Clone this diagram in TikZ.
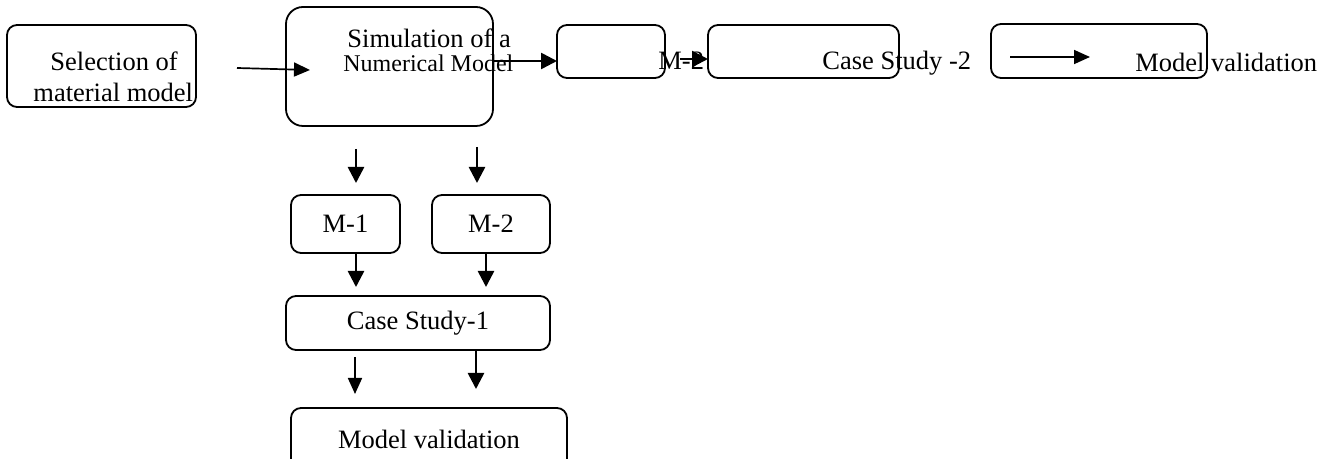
\documentclass[tikz,border=0pt]{standalone}
\usepackage{fontspec}
\setmainfont{Liberation Serif}
\usetikzlibrary{arrows.meta}

\tikzset{
    box/.style={rectangle, rounded corners=5pt, draw, line width=0.9pt,
        inner sep=0pt, outer sep=0pt, font=\fontsize{13.25}{15.5}\selectfont},
    txt/.style={inner sep=0pt, anchor=base west, font=\fontsize{13.25}{15.5}\selectfont},
    arr/.style={-{Triangle[length=8pt,width=8pt]}, line width=1.3pt},
    thinarr/.style={-{Triangle[length=8pt,width=7pt]}, line width=0.85pt}
}

\begin{document}
\begin{tikzpicture}[x=0.5pt, y=-0.5pt]
    \useasboundingbox (0,0) rectangle (1330,459);
    \clip (0,0) rectangle (1330,459);

    % boxes
    \node[box, minimum width=94.5pt, minimum height=41pt] (sel) at (101.5,66) {};
    \node[box, rounded corners=8.5pt, minimum width=103.5pt, minimum height=59.5pt] (sim) at (389.5,66.5) {};
    \node[box, minimum width=54pt, minimum height=26.5pt] (blank) at (611,51.5) {};
    \node[box, minimum width=95.5pt, minimum height=26.5pt] (cstwo) at (803.5,51.5) {};
    \node[box, minimum width=108pt, minimum height=27pt] (valtop) at (1099,51) {};
    \node[box, minimum width=54.5pt, minimum height=29pt] (mone) at (345.5,224) {M-1};
    \node[box, minimum width=59pt, minimum height=29pt] (mtwo) at (491,224) {M-2};
    \node[box, minimum width=132pt, minimum height=27pt] (csone) at (418,323) {Case Study-1};
    \node[box, minimum width=138pt, minimum height=31pt] (valbot) at (429,439) {Model validation};

    % texts that sit loose
    \node[txt] (selA) at (50,71) {Selection of};
    \node[txt] (selB) at (33,102) {material model};
    \node[txt] (simA) at (347,48) {Simulation of a};
    \node[txt, font=\fontsize{12}{14}\selectfont] (simB) at (343,72) {Numerical Model};
    \node[txt] (mtwoText) at (658,70) {M-2};
    \node[txt] (cstwoText) at (822,70) {Case Study -2};
    \node[txt] (valText) at (1135,72) {Model validation};

    % arrow ends
    \coordinate (selOut) at (237,68);
    \coordinate (simIn) at (310,70);
    \coordinate (simOut) at (492,61);
    \coordinate (blankIn) at (557,61);
    \coordinate (mtwoOut) at (680,59);
    \coordinate (cstwoIn) at (708,59);
    \coordinate (valA) at (1010,57);
    \coordinate (valB) at (1090,57);
    \coordinate (downA) at (356,149);
    \coordinate (downAend) at (356,183);
    \coordinate (downB) at (477,147);
    \coordinate (downBend) at (477,183);
    \coordinate (monein) at (356,287);
    \coordinate (mtwoin) at (486,287);
    \coordinate (csA) at (355,357);
    \coordinate (csAend) at (355,394);
    \coordinate (csB) at (476,351);
    \coordinate (csBend) at (476,389);

    % connectors
    \draw[thinarr] (selOut) -- (simIn);
    \draw[arr] (simOut) -- (blankIn);
    \draw[arr] (mtwoOut) -- (cstwoIn);
    \draw[thinarr] (valA) -- (valB);
    \draw[arr] (downA) -- (downAend);
    \draw[arr] (downB) -- (downBend);
    \draw[arr] (mone.south -| monein) -- (monein);
    \draw[arr] (mtwo.south -| mtwoin) -- (mtwoin);
    \draw[thinarr] (csA) -- (csAend);
    \draw[arr] (csB) -- (csBend);
\end{tikzpicture}
\end{document}
